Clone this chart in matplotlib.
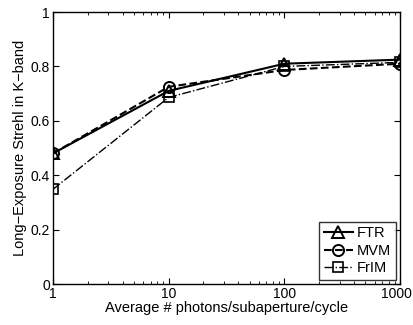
import matplotlib
matplotlib.use("Agg")
import matplotlib.pyplot as plt
from matplotlib.transforms import ScaledTranslation

plt.rcParams['font.family'] = ['Liberation Sans', 'DejaVu Sans']

x = [1, 10, 100, 1000]
ftr = [0.48, 0.71, 0.81, 0.825]
mvm = [0.48, 0.725, 0.787, 0.81]
frim = [0.348, 0.686, 0.80, 0.815]

fig = plt.figure(figsize=(4.13, 3.25), dpi=100)
ax = fig.add_axes([0.128, 0.126, 0.841, 0.837])

ax.plot(x, ftr, '-', color='black', lw=1.5, marker='^', ms=9, mfc='none', mew=1.4, label='FTR')
ax.plot(x, mvm, '--', color='black', lw=1.5, marker='o', ms=8, mfc='none', mew=1.4, label='MVM')
ax.plot(x, frim, '-.', color='black', lw=1.0, marker='s', ms=7, mfc='none', mew=1.2, label='FrIM')

ax.set_xscale('log')
ax.set_xlim(1, 1000)
ax.set_ylim(0, 1)
ax.set_xticks([1, 10, 100, 1000])
ax.set_xticklabels(['1', '10', '100', '1000'])
ax.set_yticks([0, 0.2, 0.4, 0.6, 0.8, 1])
ax.set_yticklabels(['0', '0.2', '0.4', '0.6', '0.8', '1'])
ax.tick_params(which='both', direction='in', top=True, right=True, labelsize=10, pad=2)
ax.tick_params(which='major', length=4)
ax.tick_params(which='minor', length=2)
for s in ax.spines.values():
    s.set_linewidth(1.0)
ax.set_xlabel('Average # photons/subaperture/cycle', fontsize=10.5, labelpad=0)
ax.set_ylabel('Long\u2212Exposure Strehl in K\u2212band', fontsize=10.5, labelpad=3)

fig.canvas.draw()
last = ax.get_xticklabels()[-1]
last.set_transform(last.get_transform() + ScaledTranslation(-4/100, 0, fig.dpi_scale_trans))

leg = ax.legend(loc='lower right', fontsize=10.5, frameon=True, fancybox=False,
                edgecolor='black', handlelength=2.0, borderpad=0.3, labelspacing=0.25,
                handletextpad=0.3, borderaxespad=0.3)
leg.get_frame().set_linewidth(1.0)

fig.savefig('out.png', dpi=100)
